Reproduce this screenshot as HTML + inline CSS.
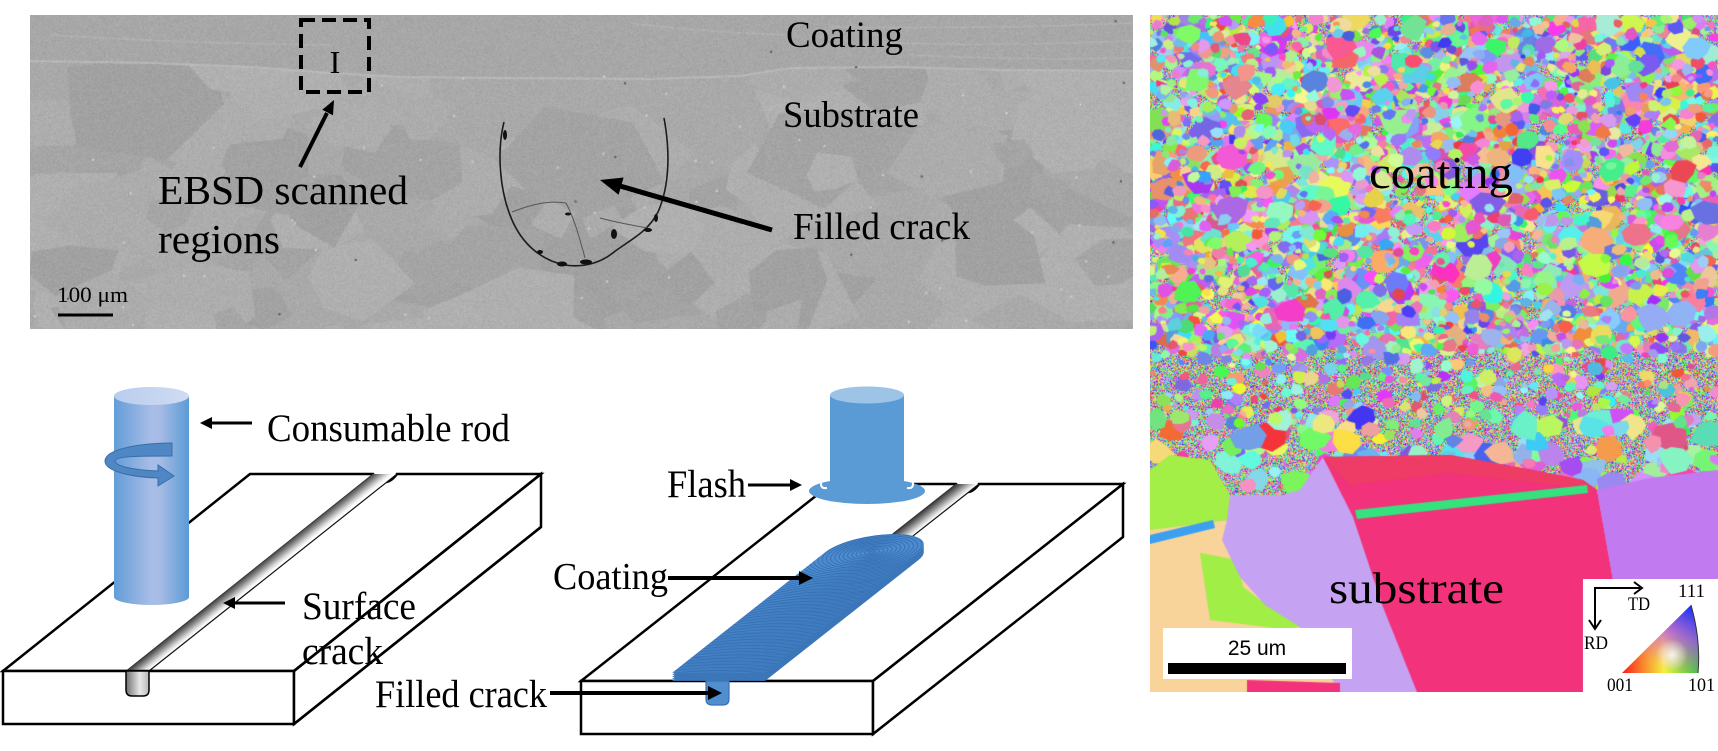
<!DOCTYPE html>
<html><head><meta charset="utf-8">
<style>
html,body{margin:0;padding:0;background:#fff;}
#wrap{position:relative;width:1718px;height:751px;overflow:hidden;background:#fff;}
canvas{position:absolute;display:block;}
#sem{left:30px;top:15px;background:#a9a9a9;}
#ebsd{left:1150px;top:15px;background:linear-gradient(to bottom,#b8c8e0 0%,#c0b8e8 62%,#d0a0e8 70%,#e880b0 100%);}
svg{position:absolute;left:0;top:0;}
text{font-family:"Liberation Serif","Times New Roman",serif;fill:#000;}
</style></head>
<body><div id="wrap">
<canvas id="sem" width="1103" height="314"></canvas>
<canvas id="ebsd" width="568" height="677"></canvas>
<svg width="1718" height="751" viewBox="0 0 1718 751" xmlns="http://www.w3.org/2000/svg">
<defs>
<linearGradient id="cylG" x1="0" y1="0" x2="1" y2="0">
<stop offset="0" stop-color="#629dd8"/><stop offset="0.5" stop-color="#a9bde6"/><stop offset="0.62" stop-color="#a5bbe5"/><stop offset="1" stop-color="#5b9bd5"/></linearGradient>
<linearGradient id="cylT" x1="0" y1="0" x2="1" y2="0">
<stop offset="0" stop-color="#b9cdee"/><stop offset="1" stop-color="#cfdcf2"/></linearGradient>
<linearGradient id="gr1" gradientUnits="userSpaceOnUse" x1="126" y1="671" x2="135" y2="682.2">
<stop offset="0" stop-color="#3a3a3a"/><stop offset="0.3" stop-color="#7a7a7a"/><stop offset="0.7" stop-color="#d8d8d8"/><stop offset="0.88" stop-color="#f7f7f7"/><stop offset="1" stop-color="#ffffff"/></linearGradient>
<linearGradient id="gr2" gradientUnits="userSpaceOnUse" x1="706" y1="681" x2="714.8" y2="692.2">
<stop offset="0" stop-color="#3a3a3a"/><stop offset="0.3" stop-color="#7a7a7a"/><stop offset="0.7" stop-color="#d8d8d8"/><stop offset="0.88" stop-color="#f7f7f7"/><stop offset="1" stop-color="#ffffff"/></linearGradient>
<linearGradient id="uG" x1="0" y1="0" x2="1" y2="0">
<stop offset="0" stop-color="#707070"/><stop offset="0.6" stop-color="#e8e8e8"/><stop offset="1" stop-color="#b8b8b8"/></linearGradient>
<linearGradient id="triRG" gradientUnits="userSpaceOnUse" x1="1622" y1="673" x2="1698" y2="673">
<stop offset="0" stop-color="#ff1a1a"/><stop offset="0.55" stop-color="#f4f040"/><stop offset="1" stop-color="#1ee01e"/></linearGradient>
<linearGradient id="triB" gradientUnits="userSpaceOnUse" x1="1692" y1="606" x2="1662" y2="668">
<stop offset="0" stop-color="#1030ff" stop-opacity="1"/><stop offset="0.45" stop-color="#b040ff" stop-opacity="0.75"/><stop offset="1" stop-color="#ff40ff" stop-opacity="0"/></linearGradient>
<radialGradient id="triW" gradientUnits="userSpaceOnUse" cx="1672" cy="655" r="16">
<stop offset="0" stop-color="#fff" stop-opacity="0.85"/><stop offset="1" stop-color="#fff" stop-opacity="0"/></radialGradient>
<clipPath id="coatClip" clipPathUnits="userSpaceOnUse">
<path d="M-46.5,-313 L46.5,-313 L46.5,0 A46.5,46.5 0 0 1 -46.5,0 Z"/>
</clipPath>
</defs>

<!-- ===== SEM overlay ===== -->
<path d="M504,122 C497,150 499,190 512,220 C522,243 540,260 565,265 C585,268 602,262 614,252 C630,240 648,232 658,212 C670,185 670,150 664,118" fill="none" stroke="#1c1c1c" stroke-width="1.6"/>
<path d="M512,212 C530,205 548,200 566,203 M566,203 C575,220 580,240 585,258 M600,218 C615,222 630,225 648,228" fill="none" stroke="#555" stroke-width="1"/>
<g fill="#111">
<ellipse cx="562" cy="264" rx="5" ry="2.5"/><ellipse cx="586" cy="262" rx="6" ry="2.5"/>
<ellipse cx="614" cy="234" rx="3" ry="5"/><ellipse cx="648" cy="230" rx="4" ry="2"/>
<ellipse cx="505" cy="135" rx="2" ry="5"/><ellipse cx="568" cy="214" rx="3" ry="1.5"/>
<ellipse cx="540" cy="252" rx="3" ry="2"/><ellipse cx="656" cy="218" rx="2" ry="4"/>
</g>
<rect x="301" y="20" width="68" height="72" fill="none" stroke="#000" stroke-width="4" stroke-dasharray="14 7"/>
<text x="335" y="73" font-size="32" text-anchor="middle">I</text>
<line x1="300" y1="167" x2="327" y2="113" stroke="#000" stroke-width="4"/>
<polygon points="334,100 333,115.2 322.3,109.8" fill="#000"/>
<text x="158" y="204" font-size="41" textLength="250" lengthAdjust="spacingAndGlyphs">EBSD scanned</text>
<text x="158" y="253" font-size="41" textLength="122" lengthAdjust="spacingAndGlyphs">regions</text>
<text x="57" y="302" font-size="22" textLength="71" lengthAdjust="spacingAndGlyphs">100 μm</text>
<line x1="58" y1="315" x2="113" y2="315" stroke="#000" stroke-width="3"/>
<text x="786" y="47" font-size="37" textLength="117" lengthAdjust="spacingAndGlyphs">Coating</text>
<text x="783" y="127" font-size="37" textLength="136" lengthAdjust="spacingAndGlyphs">Substrate</text>
<text x="793" y="239" font-size="38" textLength="177" lengthAdjust="spacingAndGlyphs">Filled crack</text>
<line x1="772" y1="230" x2="620" y2="186" stroke="#000" stroke-width="5"/>
<polygon points="600,180 623.6,177.5 618.6,194.7" fill="#000"/>

<!-- ===== Left block ===== -->
<path d="M3,671 L250,474 L373,474 Q385,490 397,474 L541,474 L294,671 Z" fill="#fff" stroke="#000" stroke-width="2.5" stroke-linejoin="miter"/>
<polygon points="126,671 373,474 397,474 149,671" fill="url(#gr1)"/>
<line x1="149" y1="671" x2="397" y2="474" stroke="#111" stroke-width="1.2"/>
<line x1="126" y1="671" x2="373" y2="474" stroke="#333" stroke-width="0.8"/>
<rect x="3" y="671" width="291" height="53" fill="#fff" stroke="#000" stroke-width="2.5"/>
<path d="M126,671 L126,690 Q126,696 132,696 L143,696 Q149,696 149,690 L149,671 Z" fill="url(#uG)" stroke="#000" stroke-width="1.5"/>
<polygon points="294,671 541,474 541,527 294,724" fill="#fff" stroke="#000" stroke-width="2.5" stroke-linejoin="miter"/>
<!-- cylinder -->
<rect x="114" y="396" width="75" height="201" fill="url(#cylG)"/>
<ellipse cx="151.5" cy="597" rx="37.5" ry="8" fill="url(#cylG)"/>
<ellipse cx="151.5" cy="396" rx="37.5" ry="9" fill="url(#cylT)"/>
<path d="M172,443 C145,443 105,448 105,461 C105,471 130,477 158,478 L158,486 L174,476 L158,465 L158,471 C133,470 115,466 115,461 C115,456 140,456 172,456 Z" fill="#4f86c4" stroke="#3a6ea8" stroke-width="1"/>
<!-- labels -->
<line x1="252" y1="423" x2="208" y2="423" stroke="#000" stroke-width="3"/>
<polygon points="200,423 212,417 212,429" fill="#000"/>
<text x="267" y="441" font-size="39" textLength="243" lengthAdjust="spacingAndGlyphs">Consumable rod</text>
<line x1="285" y1="603" x2="231" y2="603" stroke="#000" stroke-width="3"/>
<polygon points="223,603 235,597 235,609" fill="#000"/>
<text x="302" y="619" font-size="39" textLength="114" lengthAdjust="spacingAndGlyphs">Surface</text>
<text x="302" y="664" font-size="39" textLength="81" lengthAdjust="spacingAndGlyphs">crack</text>
<line x1="294" y1="671" x2="541" y2="474" stroke="#000" stroke-width="2.5"/>
<line x1="294" y1="724" x2="541" y2="527" stroke="#000" stroke-width="2.5"/>

<!-- ===== Middle block ===== -->
<path d="M581,681 L831,484 L956,484 Q967.5,500 979,484 L1123,484 L873,681 Z" fill="#fff" stroke="#000" stroke-width="2.5"/>
<polygon points="706,681 956,484 979,484 729,681" fill="url(#gr2)"/>
<line x1="729" y1="681" x2="979" y2="484" stroke="#111" stroke-width="1.2"/>
<line x1="706" y1="681" x2="956" y2="484" stroke="#333" stroke-width="0.8"/>
<rect x="581" y="681" width="292" height="53" fill="#fff" stroke="#000" stroke-width="2.5"/>
<polygon points="873,681 1123,484 1123,537 873,734" fill="#fff" stroke="#000" stroke-width="2.5"/>
<path d="M706,681 L706,699 Q706,705 712,705 L723,705 Q729,705 729,699 L729,681 Z" fill="#4f8fd0" stroke="#3a70b0" stroke-width="1.2"/>
<!-- coating extrusion -->
<g fill="#3b76b8">
<g transform="translate(0,8)"><g transform="matrix(1,0,0.49,-0.386,872,552)"><path d="M-46.5,-313 L46.5,-313 L46.5,0 A46.5,46.5 0 0 1 -46.5,0 Z"/></g></g>
<g transform="translate(0,6)"><g transform="matrix(1,0,0.49,-0.386,872,552)"><path d="M-46.5,-313 L46.5,-313 L46.5,0 A46.5,46.5 0 0 1 -46.5,0 Z"/></g></g>
<g transform="translate(0,4)"><g transform="matrix(1,0,0.49,-0.386,872,552)"><path d="M-46.5,-313 L46.5,-313 L46.5,0 A46.5,46.5 0 0 1 -46.5,0 Z"/></g></g>
<g transform="translate(0,2)"><g transform="matrix(1,0,0.49,-0.386,872,552)"><path d="M-46.5,-313 L46.5,-313 L46.5,0 A46.5,46.5 0 0 1 -46.5,0 Z"/></g></g>
</g>
<g transform="matrix(1,0,0.49,-0.386,872,552)">
<path d="M-46.5,-313 L46.5,-313 L46.5,0 A46.5,46.5 0 0 1 -46.5,0 Z" fill="#4c8bcf"/>
<g id="rings" clip-path="url(#coatClip)" fill="none" stroke="#3872b5"></g>
</g>
<!-- flash + rod -->
<ellipse cx="867" cy="491" rx="58" ry="13" fill="#5b9bd5"/>
<rect x="830" y="395" width="74" height="91" fill="#5b9bd5"/>
<ellipse cx="867" cy="395" rx="37" ry="8.5" fill="#9dc3e6"/>
<path d="M828,479 q-7,0 -7,5 q0,5 6,4" fill="none" stroke="#fff" stroke-width="2"/>
<path d="M906,479 q7,0 7,5 q0,5 -6,4" fill="none" stroke="#fff" stroke-width="2"/>
<!-- labels -->
<text x="667" y="497" font-size="39" textLength="79" lengthAdjust="spacingAndGlyphs">Flash</text>
<line x1="748" y1="485" x2="792" y2="485" stroke="#000" stroke-width="3"/>
<polygon points="802,485 790,479 790,491" fill="#000"/>
<text x="553" y="589" font-size="38" textLength="115" lengthAdjust="spacingAndGlyphs">Coating</text>
<line x1="668" y1="578" x2="800" y2="578" stroke="#000" stroke-width="4"/>
<polygon points="813,578 799,571 799,585" fill="#000"/>
<text x="375" y="707" font-size="39" textLength="172" lengthAdjust="spacingAndGlyphs">Filled crack</text>
<line x1="550" y1="693" x2="710" y2="693" stroke="#000" stroke-width="4"/>
<polygon points="722,693 708,686 708,700" fill="#000"/>

<!-- ===== EBSD overlays ===== -->
<text x="1369" y="188" font-size="46" textLength="144" lengthAdjust="spacingAndGlyphs">coating</text>
<text x="1329" y="603" font-size="44" textLength="175" lengthAdjust="spacingAndGlyphs">substrate</text>
<rect x="1163" y="628" width="189" height="51" fill="#fff"/>
<text x="1257" y="655" font-size="21" text-anchor="middle" style="font-family:'Liberation Sans',Arial,sans-serif">25 um</text>
<rect x="1168" y="663" width="178" height="11" fill="#000"/>
<rect x="1583" y="579" width="135" height="113" fill="#fff"/>
<path d="M1595,627 L1595,588 L1640,588" fill="none" stroke="#000" stroke-width="2"/>
<polyline points="1634,582 1642,588 1634,594" fill="none" stroke="#000" stroke-width="2"/>
<polyline points="1589,620 1595,629 1601,620" fill="none" stroke="#000" stroke-width="2"/>
<text x="1628" y="610" font-size="19" textLength="22" lengthAdjust="spacingAndGlyphs">TD</text>
<text x="1678" y="597" font-size="19" textLength="27" lengthAdjust="spacingAndGlyphs">111</text>
<text x="1584" y="649" font-size="19" textLength="24" lengthAdjust="spacingAndGlyphs">RD</text>
<text x="1607" y="691" font-size="19" textLength="26" lengthAdjust="spacingAndGlyphs">001</text>
<text x="1688" y="691" font-size="19" textLength="27" lengthAdjust="spacingAndGlyphs">101</text>
<path d="M1622,673 L1698,673 Q1701,640 1691,605 Z" fill="url(#triRG)"/>
<path d="M1622,673 L1698,673 Q1701,640 1691,605 Z" fill="url(#triB)"/>
<path d="M1622,673 L1698,673 Q1701,640 1691,605 Z" fill="url(#triW)"/>
<path d="M1698,673 Q1701,640 1691,605" fill="none" stroke="#333" stroke-width="1"/>
</svg>
</div>
<script>
function mulberry32(a){return function(){a|=0;a=a+0x6D2B79F5|0;var t=Math.imul(a^a>>>15,1|a);t=t+Math.imul(t^t>>>7,61|t)^t;return((t^t>>>14)>>>0)/4294967296;};}
function hslRgb(h,s,l){var q=l<0.5?l*(1+s):l+s-l*s,p=2*l-q;function f(t){if(t<0)t+=1;if(t>1)t-=1;if(t<1/6)return p+(q-p)*6*t;if(t<1/2)return q;if(t<2/3)return p+(q-p)*(2/3-t)*6;return p;}return [Math.round(f(h+1/3)*255),Math.round(f(h)*255),Math.round(f(h-1/3)*255)];}

/* rings on coating */
(function(){var g=document.getElementById('rings');var ns='http://www.w3.org/2000/svg';
for(var r=3;r<335;r+=3.8){var c=document.createElementNS(ns,'circle');c.setAttribute('cx','0');c.setAttribute('cy','0');c.setAttribute('r',r);c.setAttribute('stroke-width','1');c.setAttribute('vector-effect','non-scaling-stroke');g.appendChild(c);}})();

/* SEM */
(function(){var cv=document.getElementById('sem');var s=cv.getContext('2d');var R2=mulberry32(4242);var W=1103,H=314;
s.fillStyle='#a9a9a9';s.fillRect(0,0,W,H);
for(var i=0;i<130;i++){var cx=R2()*W,cy=40+R2()*290,r=15+R2()*55;
 if(cx>370&&cx<730&&cy<140)continue;
 var g=(R2()<0.5?161+R2()*5:172+R2()*5)|0;s.fillStyle='rgb('+g+','+g+','+g+')';
 s.beginPath();var n=4+(R2()*3|0),a0=R2()*6.28;
 for(var j=0;j<n;j++){var a=a0+j*6.283/n+R2()*0.5,rr=r*(0.6+R2()*0.6);var x=cx+Math.cos(a)*rr*1.3,y=cy+Math.sin(a)*rr;j?s.lineTo(x,y):s.moveTo(x,y);}
 s.closePath();s.fill();}
var B=[[0,45],[120,47],[220,51],[300,57],[370,61],[470,62],[620,63],[710,60],[760,52],[870,51],[970,54],[1103,55]];
s.fillStyle='#a7a7a7';s.beginPath();s.moveTo(0,0);for(var k=0;k<B.length;k++)s.lineTo(B[k][0],B[k][1]);s.lineTo(W,0);s.closePath();s.fill();
s.strokeStyle='#b8b8b8';s.lineWidth=2;s.beginPath();for(k=0;k<B.length;k++){k?s.lineTo(B[k][0],B[k][1]+1):s.moveTo(B[k][0],B[k][1]+1);}s.stroke();
s.strokeStyle='#b1b1b1';s.lineWidth=1.5;
[[800,12,1103,8],[850,28,1103,26],[880,40,1103,43],[20,20,300,30],[600,8,760,20]].forEach(function(l){s.beginPath();s.moveTo(l[0],l[1]);s.quadraticCurveTo((l[0]+l[2])/2,(l[1]+l[3])/2+4,l[2],l[3]);s.stroke();});
s.fillStyle='#d0d0d0';for(i=0;i<60;i++){s.fillRect(R2()*W,60+R2()*250,2,2);}
s.fillStyle='#555';for(i=0;i<15;i++){s.fillRect(R2()*W,R2()*H,2,2);}
var id=s.getImageData(0,0,W,H),dd=id.data;for(k=0;k<dd.length;k+=4){var nn=(R2()-0.5)*16;dd[k]+=nn;dd[k+1]+=nn;dd[k+2]+=nn;}s.putImageData(id,0,0);
})();

/* EBSD */
(function(){var cv=document.getElementById('ebsd');var c=cv.getContext('2d');var R=mulberry32(12345);var W=568,H=677;
var NH=480;var img=c.createImageData(W,NH),d=img.data;
for(var y=0;y<NH;y++)for(var x=0;x<W;x++){var col=hslRgb(R(),0.75+R()*0.25,0.52+R()*0.25);
 var k=(y*W+x)*4;d[k]=col[0];d[k+1]=col[1];d[k+2]=col[2];d[k+3]=255;}
c.putImageData(img,0,0);
c.fillStyle='#c6a2f3';c.fillRect(0,NH,W,H-NH);
function rc(){var h=R()*360,s=65+R()*33,l=58+R()*22;return 'hsl('+(h|0)+','+(s|0)+'%,'+(l|0)+'%)';}
function grain(cx,cy,r){c.fillStyle=rc();c.beginPath();var n=7,a0=R()*6.28;for(var i=0;i<n;i++){var a=a0+i*6.283/n;var rr=r*(0.7+R()*0.5);var x=cx+Math.cos(a)*rr,y=cy+Math.sin(a)*rr*0.85;i?c.lineTo(x,y):c.moveTo(x,y);}c.closePath();c.fill();}
var i,r;
for(i=0;i<4600;i++){r=3+R()*6;if(R()<0.12)r=9+R()*8;grain(R()*W,R()*335,r);}
for(i=0;i<300;i++){r=3+R()*6;grain(R()*W,330+R()*80,r);}
for(i=0;i<150;i++){r=6+R()*13;grain(R()*W,400+R()*75,r);}
function poly(pts,col){c.fillStyle=col;c.beginPath();for(var j=0;j<pts.length;j+=2){j?c.lineTo(pts[j],pts[j+1]):c.moveTo(pts[j],pts[j+1]);}c.closePath();c.fill();}
poly([0,512,80,505,150,612,190,677,0,677],'#f8d49a');
poly([0,455,20,440,60,445,80,480,77,505,40,510,0,515],'#a4ee48');
poly([0,520,63,505,65,513,0,529],'#3ca0f0');
poly([50,538,87,545,93,572,110,585,150,612,133,614,60,605,57,585],'#a0ee46');
poly([77,505,115,485,150,475,173,442,203,502,233,592,267,677,190,677,150,612,115,590,90,562,72,525],'#c6a2f3');
poly([173,442,300,440,383,455,433,465,447,475,463,565,433,565,433,677,267,677,233,592,203,502],'#f2327a');
poly([173,442,300,440,383,455,433,465,447,475,420,472,300,458,200,470],'#ee3c66');
poly([205,495,437,470,438,478,207,504],'#34e27e');
poly([447,475,500,463,568,455,568,565,463,565],'#c27af0');
poly([97,665,190,668,190,677,97,677],'#f2327a');
})();
</script>
</body></html>
